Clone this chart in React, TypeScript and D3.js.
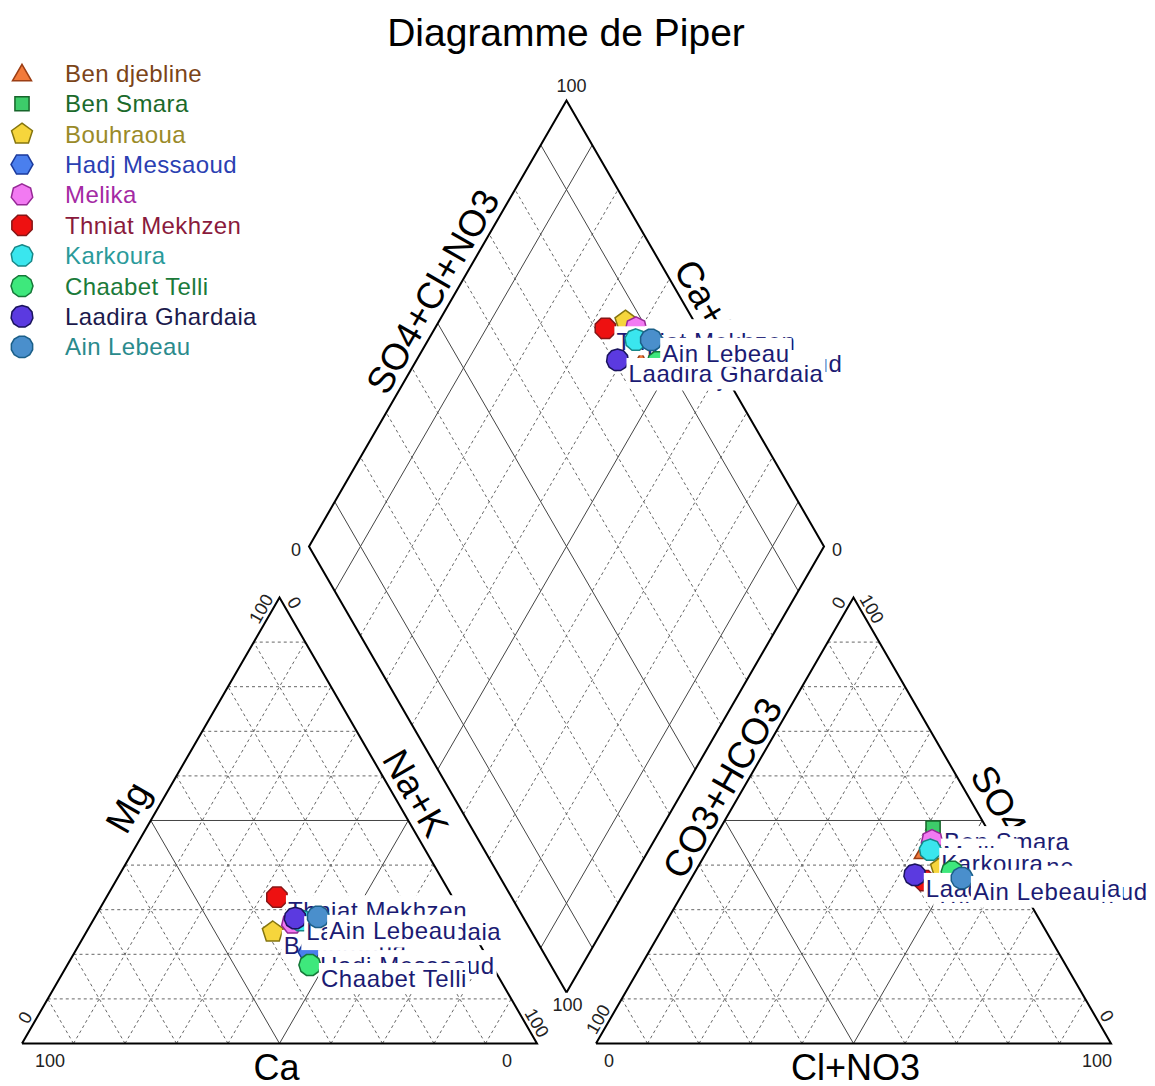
import React, { useEffect, useRef } from "react";
import * as d3 from "d3";

// ---------------- data ----------------
const samples = [
  "Ben djebline",
  "Ben Smara",
  "Bouhraoua",
  "Hadj Messaoud",
  "Melika",
  "Thniat Mekhzen",
  "Karkoura",
  "Chaabet Telli",
  "Laadira Ghardaia",
  "Ain Lebeau",
];
// cations (% meq)
const mgPct = [27, 27, 25, 20.5, 27, 32.8, 27.6, 17.6, 28.1, 28.4];
const nakPct = [44, 43, 36.2, 45.5, 39, 33.1, 40.3, 47.1, 39, 43.3];
// anions (% meq)
const so4Pct = [42.7, 48.3, 39.4, 37, 45.5, 36.5, 43.4, 38.5, 37.8, 37.1];
const clPct = [42.3, 41.3, 47.3, 52.6, 42.5, 45.5, 43.2, 49.9, 43, 52.5];

const markerSides = [3, 4, 5, 6, 7, 8, 9, 10, 11, 12];
const markerFill = ["#f27a3a", "#3dcc6a", "#f6d53c", "#4a7fee", "#f27af2", "#ee1111", "#3ae6ee", "#3ee87c", "#5b3ae0", "#4a8fcc"];
const markerStroke = ["#9c3e14", "#16652a", "#85750e", "#1b3a9c", "#962896", "#861616", "#178787", "#157838", "#1b145e", "#1b5f88"];
const legendText = ["#7b4418", "#1b6a2b", "#9a8a28", "#2a40b2", "#a42aa4", "#8a1a3c", "#2a9a9a", "#1b7a3a", "#1c1a4c", "#2a8a8c"];

const tickLabels = ["0", "100"];

// ---------------- layout ----------------
const W = 1155;
const H = 1086;
const X0 = 22;
const S = 515;
const GAP = 59;
const BASE = 1043.5;
const HGT = (S * Math.sqrt(3)) / 2;
const FONT = "Arial, 'Liberation Sans', sans-serif";

export default function App() {
  const ref = useRef<SVGSVGElement>(null);

  useEffect(() => {
    const svg = d3.select(ref.current);
    svg.selectAll("*").remove();

    const pct = d3.scaleLinear().domain([0, 100]).range([0, 1]);
    const catX0 = X0;
    const anX0 = X0 + S + GAP;
    const Bx = X0 + S + GAP / 2;
    const By = BASE - (GAP * Math.sqrt(3)) / 2;

    const cat = (mg: number, nak: number): [number, number] => [catX0 + S * (nak + mg / 2), BASE - HGT * mg];
    const an = (so4: number, cl: number): [number, number] => [anX0 + S * (cl + so4 / 2), BASE - HGT * so4];
    const dia = (a: number, c: number): [number, number] => [Bx + (S / 2) * (a - c), By - HGT * (a + c)];

    const line = d3.line();
    const gGrid = svg.append("g");

    const seg = (p: [number, number], q: [number, number], solid: boolean) => {
      gGrid
        .append("path")
        .attr("d", line([p, q]))
        .attr("fill", "none")
        .attr("stroke", solid ? "#444" : "#666")
        .attr("stroke-width", 1)
        .attr("stroke-dasharray", solid ? null : "3,3");
    };

    const fracs = d3.range(1, 10).map((i) => i / 10);
    fracs.forEach((f) => {
      const solid = Math.abs(f - 0.5) < 1e-6;
      seg(cat(f, 0), cat(f, 1 - f), solid);
      seg(cat(0, f), cat(1 - f, f), solid);
      seg(cat(0, 1 - f), cat(1 - f, 0), solid);
      seg(an(f, 0), an(f, 1 - f), solid);
      seg(an(0, f), an(1 - f, f), solid);
      seg(an(0, 1 - f), an(1 - f, 0), solid);
      const dsolid = solid || Math.abs(f - 0.1) < 1e-6 || Math.abs(f - 0.9) < 1e-6;
      seg(dia(f, 0), dia(f, 1), dsolid);
      seg(dia(0, f), dia(1, f), dsolid);
    });

    // borders
    const border = (pts: [number, number][]) => {
      gGrid
        .append("path")
        .attr("d", line(pts.concat([pts[0]])))
        .attr("fill", "none")
        .attr("stroke", "#000")
        .attr("stroke-width", 2)
        .attr("stroke-linejoin", "miter");
    };
    border([cat(0, 0), cat(0, 1), cat(1, 0)]);
    border([an(0, 0), an(0, 1), an(1, 0)]);
    border([dia(0, 0), dia(0, 1), dia(1, 1), dia(1, 0)]);

    // ---- tick labels ----
    const gT = svg.append("g").attr("font-family", FONT).attr("font-size", 18).attr("fill", "#222");
    const r3 = Math.sqrt(3) / 2;
    const tick = (txt: string, x: number, y: number, rot: number) => {
      gT.append("text")
        .attr("transform", `translate(${x},${y}) rotate(${rot})`)
        .attr("text-anchor", "middle")
        .attr("dominant-baseline", "central")
        .text(txt);
    };
    const [t0, t100] = tickLabels;
    // cation
    const cA = cat(0, 0), cB = cat(0, 1), cC = cat(1, 0);
    tick(t100, cA[0] + 28, cA[1] + 17, 0);
    tick(t0, cB[0] - 30, cB[1] + 17, 0);
    tick(t0, cA[0] + 24 * 0.5 - 10 * r3, cA[1] - 24 * r3 - 5, -60);
    tick(t100, cC[0] - 19 * 0.5 - 10 * r3, cC[1] + 19 * r3 - 5, -60);
    tick(t0, cC[0] + 12 * 0.5 + 10 * r3, cC[1] + 12 * r3 - 5, 60);
    tick(t100, cB[0] - 18 * 0.5 + 10 * r3, cB[1] - 18 * r3 - 5, 60);
    // anion
    const aA = an(0, 0), aB = an(0, 1), aC = an(1, 0);
    tick(t0, aA[0] + 13, aA[1] + 17, 0);
    tick(t100, aB[0] - 14, aB[1] + 17, 0);
    tick(t100, aA[0] + 22 * 0.5 - 10 * r3, aA[1] - 22 * r3 - 5, -60);
    tick(t0, aC[0] - 12 * 0.5 - 10 * r3, aC[1] + 12 * r3 - 5, -60);
    tick(t100, aC[0] + 19 * 0.5 + 10 * r3, aC[1] + 19 * r3 - 5, 60);
    tick(t0, aB[0] - 26 * 0.5 + 10 * r3, aB[1] - 26 * r3 - 5, 60);
    // diamond
    const dL = dia(0, 1), dR = dia(1, 0), dT = dia(1, 1), dB = dia(0, 0);
    tick(t0, dL[0] - 13, dL[1] + 4, 0);
    tick(t0, dR[0] + 13, dR[1] + 4, 0);
    tick(t100, dT[0] + 5, dT[1] - 14, 0);
    tick(t100, dB[0] + 1, dB[1] + 13, 0);

    // ---- axis titles ----
    const gA = svg.append("g").attr("font-family", FONT).attr("font-size", 37).attr("fill", "#000");
    const axisLabel = (txt: string, p: [number, number], q: [number, number], out: number, along: number, rot: number) => {
      const mx = (p[0] + q[0]) / 2, my = (p[1] + q[1]) / 2;
      const len = Math.hypot(q[0] - p[0], q[1] - p[1]);
      const ux = (q[0] - p[0]) / len, uy = (q[1] - p[1]) / len;
      const nx = rot < 0 ? -r3 : r3;
      const ny = -0.5;
      const x = mx + ux * along + nx * out;
      const y = my + uy * along + ny * out;
      gA.append("text")
        .attr("transform", `translate(${x},${y}) rotate(${rot})`)
        .attr("text-anchor", "middle")
        .attr("dominant-baseline", "central")
        .text(txt);
    };
    gA.append("text").attr("x", (cA[0] + cB[0]) / 2 - 3).attr("y", BASE + 36).attr("text-anchor", "middle").attr("font-size", 36).text("Ca");
    gA.append("text").attr("x", (aA[0] + aB[0]) / 2 + 2).attr("y", BASE + 36).attr("text-anchor", "middle").attr("font-size", 36).text("Cl+NO3");
    axisLabel("Mg", cA, cC, 26, 0, -60);
    axisLabel("Na+K", cB, cC, 20, 20, 60);
    axisLabel("SO4+Cl+NO3", dL, dT, 20, 25, -60);
    axisLabel("Ca+Mg", dR, dT, 20, -2, 60);
    axisLabel("CO3+HCO3", aA, aC, 18, 27, -60);
    axisLabel("SO4", aB, aC, 24, 9, 60);

    // title
    svg.append("text")
      .attr("x", 566)
      .attr("y", 46)
      .attr("text-anchor", "middle")
      .attr("font-family", FONT)
      .attr("font-size", 39)
      .attr("fill", "#000")
      .text("Diagramme de Piper");

    // ---- markers ----
    const shape = (n: number) => {
      const r = n === 4 ? 10 : 11;
      const a0 = -Math.PI / 2 + (n % 2 === 0 ? Math.PI / n : 0);
      return d3.range(n).map((k) => [r * Math.cos(a0 + (2 * Math.PI * k) / n), r * Math.sin(a0 + (2 * Math.PI * k) / n)] as [number, number]);
    };
    const marker = (g: any, i: number, x: number, y: number) => {
      g.append("path")
        .attr("d", line(shape(markerSides[i])) + "Z")
        .attr("transform", `translate(${x},${y})`)
        .attr("fill", markerFill[i])
        .attr("stroke", markerStroke[i])
        .attr("stroke-width", 1.5);
    };

    const gP = svg.append("g");
    const label = (txt: string, x: number, y: number) => {
      const rect = gP.append("rect").attr("fill", "#fff");
      const t = gP
        .append("text")
        .attr("x", x + 11)
        .attr("y", y + 22)
        .attr("font-family", FONT)
        .attr("font-size", 24)
        .attr("letter-spacing", 0.6)
        .attr("fill", "#1b1b73")
        .text(txt);
      const bb = (t.node() as SVGTextElement).getBBox();
      rect.attr("x", bb.x - 2).attr("y", bb.y - 2).attr("width", bb.width + 4).attr("height", bb.height + 2);
    };

    samples.forEach((name, i) => {
      const mg = pct(mgPct[i]);
      const nak = pct(nakPct[i]);
      const so4 = pct(so4Pct[i]);
      const cl = pct(clPct[i]);
      const pc = cat(mg, nak);
      const pa = an(so4, cl);
      const pd = dia(so4 + cl, 1 - nak);
      marker(gP, i, pc[0], pc[1]);
      label(name, pc[0], pc[1]);
      marker(gP, i, pa[0], pa[1]);
      label(name, pa[0], pa[1]);
      marker(gP, i, pd[0], pd[1]);
      label(name, pd[0], pd[1]);
    });

    // ---- legend ----
    const gL = svg.append("g");
    samples.forEach((name, i) => {
      const y = 73.3 + i * 30.4;
      marker(gL, i, 22, y + (markerSides[i] === 3 ? 2 : 0));
      gL.append("text")
        .attr("x", 65)
        .attr("y", y + 8.5)
        .attr("font-family", FONT)
        .attr("font-size", 24)
        .attr("letter-spacing", 0.4)
        .attr("fill", legendText[i])
        .text(name);
    });
  }, []);

  return (
    <svg
      ref={ref}
      width={W}
      height={H}
      style={{ position: "absolute", left: 0, top: 0, background: "#fff", display: "block" }}
    />
  );
}
